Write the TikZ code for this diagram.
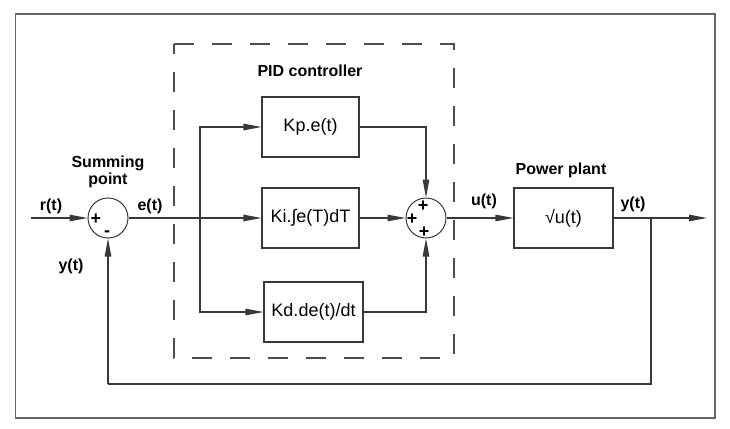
\documentclass[tikz,border=0pt]{standalone}
\usepackage{fontspec}
\setmainfont{Liberation Sans}
\usetikzlibrary{arrows.meta}
\begin{document}
\begin{tikzpicture}[x=1pt,y=-1pt,
  line/.style={draw=black!78,line width=1.1pt},
  arr/.style={line,-{Triangle[length=18pt,width=6.5pt]}},
  blk/.style={draw=black!78,line width=1.1pt,rectangle,minimum width=97pt,minimum height=60pt,inner sep=0pt,font=\fontsize{18}{20}\selectfont},
  sumc/.style={draw=black!78,line width=1pt,circle,minimum size=40pt,inner sep=0pt},
  lbl/.style={font=\fontsize{16}{17}\selectfont\bfseries,inner sep=0pt},
  sgn/.style={font=\fontsize{18}{18}\selectfont\bfseries,inner sep=0pt}]
\useasboundingbox (0,0) rectangle (730,428);
\fill[white] (0,0) rectangle (730,428);
% outer frame
\draw[black!60,line width=1.6pt] (15.5,14) rectangle (715,418);
% dashed PID box
\draw[black!70,line width=1.2pt,dash pattern=on 20pt off 18pt] (174,44) -- (454,44) -- (454,358) -- (174,358) -- cycle;
% nodes
\node[sumc] (s1) at (108,218) {};
\node[sumc] (s2) at (426,218) {};
\node[blk] (kp) at (310.5,127) {Kp.e(t)};
\node[blk] (ki) at (310.5,218) {Ki.∫e(T)dT};
\node[blk,minimum width=99pt] (kd) at (313.5,312) {Kd.de(t)/dt};
\node[blk,minimum width=99pt] (pl) at (563.5,218) {√u(t)};
\coordinate (in) at (31,218);
\coordinate (out) at (707,218);
\coordinate (br) at (200,218);
\coordinate (fb) at (651,218);
\coordinate (fbr) at (651,384);
\coordinate (fbl) at (108,384);
% connectors
\draw[arr] (in) -- (s1.west);
\draw[arr] (s1.east) -- (ki.west);
\draw[arr] (br) |- (kp.west);
\draw[arr] (br) |- (kd.west);
\draw[arr] (kp.east) -| (s2.north);
\draw[arr] (ki.east) -- (s2.west);
\draw[arr] (kd.east) -| (s2.south);
\draw[arr] (s2.east) -- (pl.west);
\draw[arr] (pl.east) -- (out);
\draw[line] (fb) -- (fbr) -- (fbl);
\draw[arr] (fbl) -- (s1.south);
% signs
\node[sgn] at (96,219) {+};
\node[sgn] at (107,234) {-};
\node[sgn] at (423,206) {+};
\node[sgn] at (412,219) {+};
\node[sgn] at (424,232) {+};
% labels
\node[lbl,align=center] (sp) at (108,172) {Summing\\point};
\node[lbl] (rt) at (51,206) {r(t)};
\node[lbl] (et) at (150,206) {e(t)};
\node[lbl] (yt1) at (71,266) {y(t)};
\node[lbl] (pid) at (310,71) {PID controller};
\node[lbl] (ut) at (484,201) {u(t)};
\node[lbl] (pp) at (561,170) {Power plant};
\node[lbl] (yt2) at (633,204) {y(t)};
\end{tikzpicture}
\end{document}
